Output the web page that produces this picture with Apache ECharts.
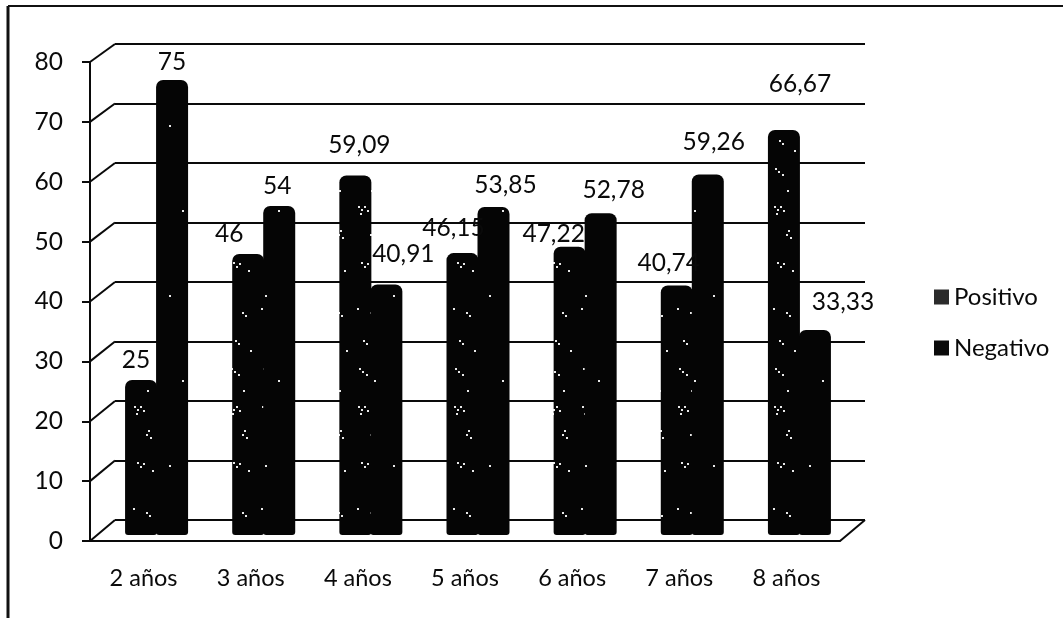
<!DOCTYPE html>
<html>
<head>
<meta charset="utf-8">
<style>html,body{margin:0;background:#fff}#chart{width:1063px;height:618px}</style>
<script src="https://cdn.jsdelivr.net/npm/echarts@6/dist/echarts.min.js"></script>
</head>
<body>
<div id="chart"></div>
<script>
const categories = ['2 años', '3 años', '4 años', '5 años', '6 años', '7 años', '8 años']
const positivo = [25, 46, 59.09, 46.15, 47.22, 40.74, 66.67]
const negativo = [75, 54, 40.91, 53.85, 52.78, 59.26, 33.33]
const yTicks = [0, 10, 20, 30, 40, 50, 60, 70, 80]

// where each value label sits relative to the top of its bar, hand placed in the original
const positivoLabelShift = [[-5, -20], [-19, -20], [4, -30], [-9, -25], [-16, -13], [-8, -22], [16, -46]]
const negativoLabelShift = [[0, -18], [-2, -20], [17, -30], [12, -22], [13, -23], [6, -32], [28, -28]]

// white specks of the scan, repeated as a fill
const positivoSpecks = [[6, 6], [9, 9], [12, 6], [15, 10], [8, 13], [20, 30], [18, 34], [22, 37], [9, 62], [12, 66], [15, 63], [24, 70], [5, 108], [18, 112], [21, 115], [11, 140], [14, 143], [26, 150], [7, 168], [10, 171], [14, 174], [19, 190]]
const negativoSpecks = [[22, 40], [9, 125]]

const speckTile = (specks, h) => {
  const c = document.createElement('canvas')
  c.width = 32
  c.height = h
  const g = c.getContext('2d')
  g.fillStyle = '#050505'
  g.fillRect(0, 0, 32, h)
  g.fillStyle = '#e8e8e8'
  specks.forEach(s => g.fillRect(s[0], s[1], 2, 2))
  return c
}

const font = 'Lato, Carlito, sans-serif'
const ink = '#0a0a0a'
const barW = 32

const barSeries = (name, values, shifts, side, tile, legendColor) => ({
  name: name,
  type: 'custom',
  xAxisIndex: 2,
  yAxisIndex: 2,
  z: 5,
  silent: true,
  itemStyle: { color: legendColor },
  encode: { x: 0, y: 1 },
  data: values.map((v, i) => [i, v]),
  renderItem: function (params, api) {
    const i = api.value(0)
    const top = api.coord([i, api.value(1)])
    const base = api.coord([i, 0])
    const cx = top[0] + side * 15.5
    const shift = shifts[i]
    return {
      type: 'group',
      children: [
        {
          type: 'rect',
          shape: { x: cx - barW / 2, y: top[1], width: barW, height: base[1] - top[1] + 5, r: [7, 7, 3, 3] },
          style: { fill: { image: tile, repeat: 'repeat' } }
        },
        {
          type: 'text',
          z2: 10,
          style: {
            text: String(api.value(1)).replace('.', ','),
            x: cx + shift[0],
            y: top[1] + shift[1],
            align: 'center',
            verticalAlign: 'middle',
            font: '24.5px ' + font,
            fill: ink
          }
        }
      ]
    }
  }
})

const chart = echarts.init(document.getElementById('chart'))
chart.setOption({
  animation: false,
  backgroundColor: '#fff',
  textStyle: { fontFamily: font },
  legend: {
    left: 929,
    top: 280,
    orient: 'vertical',
    icon: 'rect',
    itemWidth: 15,
    itemHeight: 15,
    itemGap: 27,
    textStyle: { fontFamily: font, fontSize: 24, color: ink },
    data: ['Positivo', 'Negativo']
  },
  grid: [
    { left: 90, right: 223, top: 62, bottom: 77 },
    { left: 115, right: 198, top: 44, bottom: 98 },
    { left: 103, right: 210, top: 50, bottom: 88 }
  ],
  xAxis: [
    {
      type: 'category',
      gridIndex: 0,
      data: categories,
      axisLine: { lineStyle: { color: ink, width: 2 } },
      axisTick: { length: 7, lineStyle: { color: ink, width: 2 } },
      axisLabel: { color: ink, fontSize: 23.5, fontFamily: font, margin: 25 }
    },
    { type: 'category', gridIndex: 1, data: categories, show: false },
    { type: 'category', gridIndex: 2, data: categories, show: false }
  ],
  yAxis: [
    {
      type: 'value',
      gridIndex: 0,
      min: 0,
      max: 80,
      interval: 10,
      splitLine: { show: false },
      axisLine: { show: true, lineStyle: { color: ink, width: 2 } },
      axisTick: { show: true, length: 8, lineStyle: { color: ink, width: 2 } },
      axisLabel: { color: ink, fontSize: 24.5, fontFamily: font, margin: 27 }
    },
    {
      type: 'value',
      gridIndex: 1,
      min: 0,
      max: 80,
      interval: 10,
      axisLine: { show: false },
      axisTick: { show: false },
      axisLabel: { show: false },
      splitLine: { lineStyle: { color: ink, width: 2 } }
    },
    { type: 'value', gridIndex: 2, min: 0, max: 80, interval: 10, show: false }
  ],
  series: [
    {
      type: 'custom',
      silent: true,
      z: 3,
      xAxisIndex: 0,
      yAxisIndex: 0,
      encode: { x: 0, y: 1 },
      // side walls of the 3D box: one slanted line per tick, plus the floor corner on the right
      data: yTicks.map(v => [0, v]).concat([[categories.length - 1, 0]]),
      renderItem: function (params, api) {
        const i = api.value(0)
        const v = api.value(1)
        const p = api.coord([i, v])
        const band = api.size([1, 0])[0]
        const x = p[0] + (i === 0 ? -band / 2 : band / 2)
        return {
          type: 'line',
          shape: { x1: x, y1: p[1], x2: x + 25, y2: p[1] - (21 - 3 * v / 80) },
          style: { stroke: ink, lineWidth: 2 }
        }
      }
    },
    barSeries('Positivo', positivo, positivoLabelShift, -1, speckTile(positivoSpecks, 200), '#2b2b2b'),
    barSeries('Negativo', negativo, negativoLabelShift, 1, speckTile(negativoSpecks, 170), '#0a0a0a')
  ],
  graphic: [
    { type: 'line', shape: { x1: 8, y1: 6, x2: 1063, y2: 6 }, style: { stroke: '#111', lineWidth: 2 } },
    { type: 'line', shape: { x1: 8, y1: 6, x2: 8, y2: 618 }, style: { stroke: '#111', lineWidth: 3 } }
  ]
})
</script>
</body>
</html>
